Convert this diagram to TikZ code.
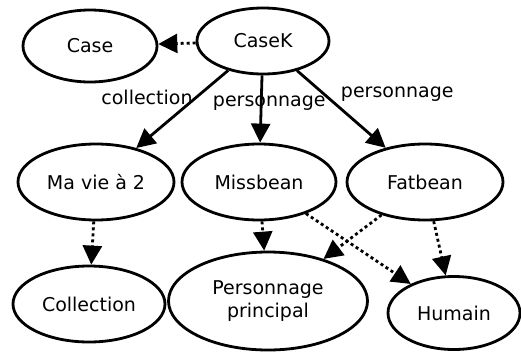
\documentclass[tikz,border=0pt]{standalone}
\usepackage{fontspec}
\setmainfont{DejaVu Sans}
\usepackage{tikz}
\usetikzlibrary{shapes.geometric,arrows.meta}

\begin{document}
\begin{tikzpicture}[x=1pt, y=-1pt, line width=2.8pt,
		node_style/.style={ellipse,draw=black,inner sep=0pt,align=center,font=\fontsize{19}{23}\selectfont},
		edge_style/.style={draw=black,-{Triangle[length=19pt,width=19pt]}},
		dot_style/.style={edge_style,dash pattern=on 3pt off 3pt},
		label_style/.style={font=\fontsize{19}{23}\selectfont,inner sep=2pt}]
		\useasboundingbox (0,0) rectangle (521,351);

		\node[node_style,minimum width=134pt,minimum height=72pt] (case) at (90,46)  {Case};
		\node[node_style,minimum width=132pt,minimum height=66pt] (casek) at (263,41)  {CaseK};
		\node[node_style,minimum width=156pt,minimum height=76pt] (mavie) at (96,182)  {Ma vie à 2};
		\node[node_style,minimum width=154pt,minimum height=76pt] (missbean) at (259,182)  {Missbean};
		\node[node_style,minimum width=156pt,minimum height=76pt] (fatbean) at (425,182)  {Fatbean};
		\node[node_style,minimum width=152pt,minimum height=76pt] (collection) at (89,304)  {Collection};
		\node[node_style,minimum width=199pt,minimum height=98pt] (perso) at (268,301)  {Personnage\\principal};
		\node[node_style,minimum width=132pt,minimum height=73pt] (humain) at (454,313)  {Humain};

		\draw[dot_style]  (casek) edge (case);
		\draw[edge_style]  (casek) edge node[label_style,pos=.35,anchor=east] (lbl_coll) {collection} (mavie);
		\draw[edge_style]  (casek) edge node[label_style,pos=.41,xshift=8pt] (lbl_miss) {personnage} (missbean);
		\draw[edge_style]  (casek) edge node[label_style,pos=.31,anchor=west,xshift=13pt] (lbl_fat) {personnage} (fatbean);
		\draw[dot_style]  (mavie) edge (collection);
		\draw[dot_style]  (missbean) edge (perso);
		\draw[dot_style]  (missbean) edge (humain);
		\draw[dot_style]  (fatbean) edge (perso);
		\draw[dot_style]  (fatbean) edge (humain);

\end{tikzpicture}
\end{document}
